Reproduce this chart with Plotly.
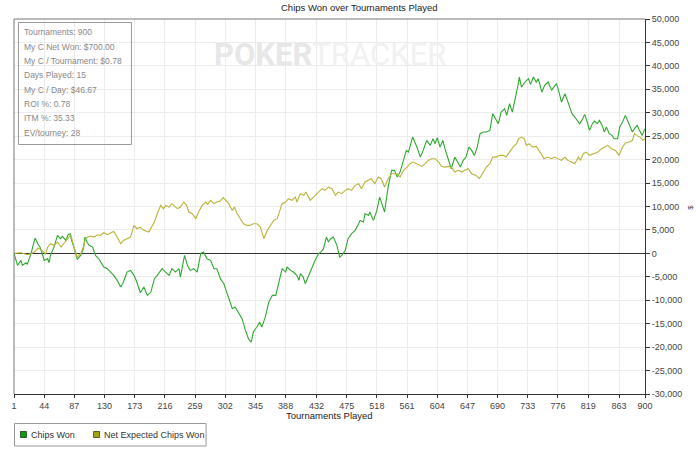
import plotly.graph_objects as go

# ---------------- data ----------------
chips_t = [1,6,11,13,18,20,25,31,35,38,42,44,49,51,53,58,63,67,70,75,78,81,83,87,91,94,96,100,102,105,108,113,117,121,124,129,134,139,143,148,153,157,162,167,172,176,181,186,191,196,201,205,212,217,222,226,231,236,238,244,248,252,257,262,267,271,276,281,286,290,295,300,307,312,316,321,326,330,335,339,342,347,351,354,359,364,369,374,378,383,388,390,395,399,404,407,409,413,416,421,425,430,435,438,442,446,449,452,456,461,465,468,473,477,482,487,492,494,499,501,506,508,513,518,522,527,529,534,539,543,547,551,556,560,563,569,575,580,584,589,594,598,601,604,608,612,615,620,624,629,634,637,641,645,649,653,657,661,665,670,674,679,683,687,691,695,700,703,707,711,716,719,721,724,729,734,737,741,745,748,753,757,762,767,770,774,778,781,786,790,793,796,800,803,807,810,814,817,821,825,828,832,835,839,842,845,849,853,856,861,864,868,872,876,879,882,885,889,892,896,900]
chips_won = [0,-2560,-1490,-2560,-1990,-2350,-150,3270,2060,1350,-430,-1490,-1140,-1990,-430,1350,3840,3130,3630,2770,3980,4200,2770,1000,-1280,-780,-430,1000,3480,2410,1710,1350,-430,-1000,-1710,-2920,-3270,-3980,-4690,-5760,-7180,-6110,-3980,-3630,-4690,-6110,-8400,-7180,-8960,-8250,-5400,-4690,-3270,-3980,-4690,-3270,-3980,-3270,-5050,-430,-2560,-3630,-3270,-3980,-70,280,-1140,-1490,-3270,-3270,-5400,-6470,-9320,-11800,-11450,-12860,-13930,-16060,-18200,-18920,-16790,-15720,-14660,-15720,-13590,-10390,-8960,-8960,-6470,-3270,-3980,-2920,-3630,-3980,-4690,-5760,-4340,-5050,-6470,-4690,-2920,-1490,-70,280,1000,3480,2410,3130,3480,1710,-780,-430,640,3130,4200,4910,6330,7040,6680,8460,8110,8820,7040,9170,12010,9530,8820,14150,17710,17710,16280,17350,19840,21970,21610,24810,22680,20540,21970,24110,23040,24460,23400,24670,22680,24110,22330,20200,18060,20540,19130,18410,19840,20540,22680,21970,20910,22680,25530,25890,25890,26240,29800,28730,27660,30150,30870,29440,31930,30150,33350,35840,37620,35480,36550,37260,36050,37620,36550,37260,34420,35840,36550,34770,35480,36200,34070,32280,34070,32280,31220,29800,29080,28370,27660,28370,29650,28370,26240,27660,28230,27660,28370,27310,25890,26950,25530,25170,24460,24460,26950,28010,29440,28010,26950,25890,26600,27310,26240,25170,26600]

ev_t = [1,6,11,16,20,25,30,35,39,44,46,49,53,58,63,68,72,77,82,87,91,96,100,103,106,110,115,120,124,129,134,139,143,148,153,157,162,167,172,176,181,186,193,201,205,210,214,217,222,226,230,234,238,243,247,250,255,260,264,269,274,277,281,286,290,295,299,303,307,312,315,319,323,328,333,337,342,347,352,357,362,366,371,376,381,383,388,392,397,402,404,409,414,417,423,428,435,440,444,449,454,459,463,468,473,477,482,487,492,496,501,506,510,515,520,524,529,534,539,542,547,551,556,561,565,570,575,582,587,591,596,601,606,610,615,620,624,629,634,639,643,648,653,659,664,668,674,679,683,688,693,698,702,707,712,717,720,724,728,731,735,740,745,752,756,761,767,771,776,781,786,790,795,800,805,808,812,816,821,827,833,838,842,847,852,858,863,868,872,878,882,885,888,893,897,900]
net_expected = [0,140,140,-70,-280,-70,280,1140,850,140,-140,1350,2060,1710,2420,1350,2060,3130,3980,1000,-780,-70,1350,3130,3480,3700,3480,3980,3840,4410,3980,4410,4690,3480,2060,2770,3130,3480,5970,5260,5600,4910,4550,6680,8460,10240,9530,10240,9880,10600,10030,9530,9880,10950,10240,8820,8460,7400,8820,10240,10950,10450,11310,10600,10950,11160,11880,11160,10600,9170,9880,8460,7400,6330,5970,5970,6330,6330,5620,3130,5000,5970,7040,7400,9530,10600,10950,11660,11310,12010,10950,12730,12370,13080,11310,12010,13080,13800,13440,14150,13800,12370,13080,12730,13440,13800,13440,14510,14870,13800,15220,15570,15930,14870,16280,15930,14150,15930,17000,17000,17000,16280,17710,18410,19130,19480,19130,18560,19130,19840,20200,20200,19480,18560,18410,18560,18410,17350,17710,17350,17710,18060,17000,16640,15930,17000,18410,19130,20540,20540,20910,20910,20540,21610,22680,23400,24460,24810,24460,23040,23400,22680,22830,21260,20200,20540,20200,20540,20200,19840,20540,19840,19480,19130,20540,19840,21260,21610,20910,21260,21610,22330,22680,23040,22330,21970,20910,22680,23540,23750,24110,25530,25170,24810,24110,24460]

x_ticks = [1,44,87,130,173,216,259,302,345,388,432,475,518,561,604,647,690,733,776,819,863,900]
y_ticks = list(range(-30000, 50001, 5000))
y_tick_labels = [("-" if v < 0 else "") + f"{abs(v):,}" for v in y_ticks]

stats_lines = ["Tournaments: 900", "My C Net Won: $700.00", "My C / Tournament: $0.78",
               "Days Played: 15", "My C / Day: $46.67", "ROI %: 0.78", "ITM %: 35.33",
               "EV/tourney: 28"]
series_names = ["Chips Won", "Net Expected Chips Won"]

# ---------------- geometry helpers ----------------
W, H = 700, 456
L, R, T, B = 11, 645, 19, 394
def px(x):
    return (x - L) / (R - L)
def py(y):
    return (B - y) / (B - T)

FONT = "Liberation Sans, Arial, sans-serif"
GREEN = "#2fa82f"
OLIVE = "#bab33a"

fig = go.Figure()
fig.add_trace(go.Scatter(x=chips_t, y=chips_won, mode="lines", name=series_names[0],
                         line=dict(color=GREEN, width=1.1), showlegend=False))
fig.add_trace(go.Scatter(x=ev_t, y=net_expected, mode="lines", name=series_names[1],
                         line=dict(color=OLIVE, width=1.1), showlegend=False))

fig.update_layout(
    width=W, height=H,
    margin=dict(l=L, r=W - R, t=T, b=H - B),
    paper_bgcolor="white", plot_bgcolor="white",
    font=dict(family=FONT, size=9, color="#333"),
    showlegend=False,
    xaxis=dict(range=[1, 900], tickvals=x_ticks, ticktext=[str(v) for v in x_ticks],
               showgrid=True, gridcolor="#ececec", gridwidth=1,
               showline=True, linecolor="#333", linewidth=1,
               ticks="outside", ticklen=3, tickcolor="#333",
               tickfont=dict(size=9, color="#444"), zeroline=False),
    yaxis=dict(range=[-30000, 50000], side="right", tickvals=y_ticks, ticktext=y_tick_labels,
               showgrid=True, gridcolor="#ececec", gridwidth=1,
               showline=True, linecolor="#333", linewidth=1,
               ticks="outside", ticklen=4, tickcolor="#333",
               tickfont=dict(size=9, color="#444"),
               zeroline=True, zerolinecolor="#333", zerolinewidth=1),
)

shapes = []
# top and left frame
shapes.append(dict(type="line", xref="paper", yref="paper", x0=0, x1=1, y0=1, y1=1,
                   line=dict(color="#777", width=1)))
shapes.append(dict(type="line", xref="paper", yref="paper", x0=0, x1=0, y0=0, y1=1,
                   line=dict(color="#777", width=1)))
# stats box
shapes.append(dict(type="rect", xref="paper", yref="paper", x0=px(15.5), x1=px(129), y0=py(144.5), y1=py(22.5),
                   line=dict(color="#999", width=1), fillcolor="rgba(255,255,255,0)"))
# legend box
shapes.append(dict(type="rect", xref="paper", yref="paper", x0=px(11.5), x1=px(204), y0=py(446), y1=py(423.5),
                   line=dict(color="#999", width=1), fillcolor="white"))
shapes.append(dict(type="rect", xref="paper", yref="paper", x0=px(17.5), x1=px(23.5), y0=py(437.5), y1=py(431.5),
                   line=dict(color="#2a5a2a", width=1), fillcolor="#119911"))
shapes.append(dict(type="rect", xref="paper", yref="paper", x0=px(91), x1=px(97), y0=py(437.5), y1=py(431.5),
                   line=dict(color="#5a5a1a", width=1), fillcolor="#a3a312"))
fig.update_layout(shapes=shapes)

ann = []
# title
ann.append(dict(text="Chips Won over Tournaments Played", xref="paper", yref="paper",
                x=px(357.5), y=py(8), xanchor="center", yanchor="middle", showarrow=False,
                font=dict(size=9.5, color="#222", family=FONT)))
# x axis title
ann.append(dict(text="Tournaments Played", xref="paper", yref="paper",
                x=px(328), y=py(415.5), xanchor="center", yanchor="middle", showarrow=False,
                font=dict(size=9.5, color="#222", family=FONT)))
# y axis title
ann.append(dict(text="$", xref="paper", yref="paper", x=px(690), y=py(207),
                xanchor="center", yanchor="middle", showarrow=False, textangle=-90,
                font=dict(size=8, color="#444", family=FONT)))
# watermark
ann.append(dict(text="<b>POKER</b><span style='color:#f1f1f1'>TRACKER</span>", xref="paper", yref="paper",
                x=px(329), y=py(55), xanchor="center", yanchor="middle", showarrow=False,
                font=dict(size=31, color="#e7e7e7", family="Roboto, sans-serif")))
# stats text
for i, s in enumerate(stats_lines):
    ann.append(dict(text=s, xref="paper", yref="paper", x=px(19), y=py(32.3 + i * 14.34),
                    xanchor="left", yanchor="middle", showarrow=False,
                    font=dict(size=8.5, color="#888", family=FONT)))
# legend texts
ann.append(dict(text=series_names[0], xref="paper", yref="paper", x=px(26.5), y=py(434.6),
                xanchor="left", yanchor="middle", showarrow=False,
                font=dict(size=9, color="#333", family=FONT)))
ann.append(dict(text=series_names[1], xref="paper", yref="paper", x=px(99.5), y=py(434.6),
                xanchor="left", yanchor="middle", showarrow=False,
                font=dict(size=9, color="#333", family=FONT)))
fig.update_layout(annotations=ann)

fig.write_html("out.html")
